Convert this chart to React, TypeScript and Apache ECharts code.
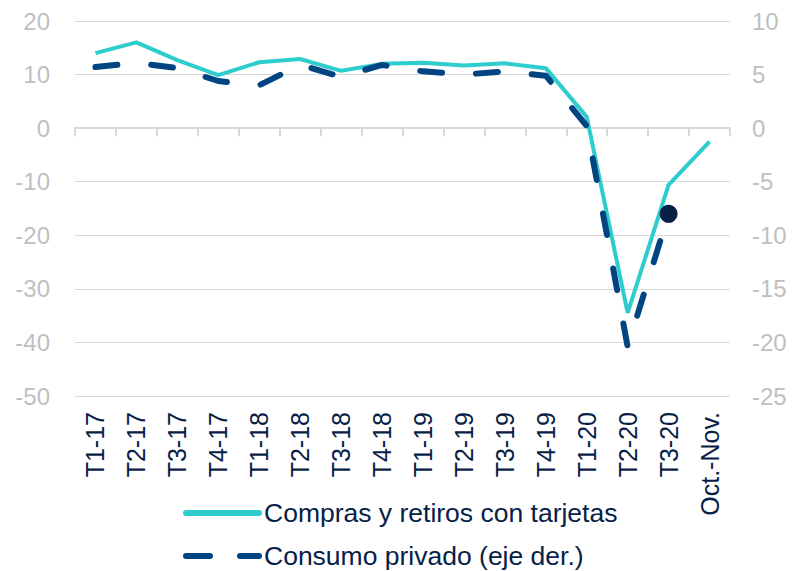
import React, { useEffect, useRef } from "react";
import * as echarts from "echarts";

const categories = [
  "T1-17", "T2-17", "T3-17", "T4-17",
  "T1-18", "T2-18", "T3-18", "T4-18",
  "T1-19", "T2-19", "T3-19", "T4-19",
  "T1-20", "T2-20", "T3-20", "Oct.-Nov.",
];

const tarjetas = [14, 16, 12.7, 9.9, 12.3, 12.9, 10.7, 12, 12.2, 11.7, 12.1, 11.2, 2.1, -34.5, -10.6, -2.5];
const consumo = [5.7, 6.1, 5.6, 4.4, 4.0, 5.9, 4.8, 5.9, 5.3, 5.0, 5.3, 4.9, 0.2, -20.4, -8, null];
const consumoPunto = [null, null, null, null, null, null, null, null, null, null, null, null, null, null, -8, null];

const seriesNames = ["Compras y retiros con tarjetas", "Consumo privado (eje der.)"];

const FONT = "'Liberation Sans', Arial, sans-serif";

const legendBase = {
  orient: "horizontal",
  left: 183,
  padding: 0,
  itemWidth: 73,
  itemHeight: 14,
  itemStyle: { opacity: 0 },
  textStyle: { fontSize: 26.5, color: "#072146", fontFamily: FONT, lineHeight: 30 },
};

export default function App() {
  const ref = useRef<HTMLDivElement>(null);

  useEffect(() => {
    if (!ref.current) return;
    const chart = echarts.init(ref.current, null, { renderer: "svg" });
    chart.setOption({
      animation: false,
      textStyle: { fontFamily: FONT },
      grid: { left: 75, right: 62, top: 21, bottom: 175, containLabel: false },
      legend: [
        {
          ...legendBase,
          data: [seriesNames[0]],
          top: 498,
          lineStyle: { width: 6, color: "#2dcccd", cap: "round" },
        },
        {
          ...legendBase,
          data: [seriesNames[1]],
          top: 541,
          lineStyle: { width: 6, color: "#004481", type: [24, 30], cap: "round" },
        },
      ],
      xAxis: [
        {
          type: "category",
          data: categories,
          position: "bottom",
          boundaryGap: true,
          axisLine: { show: false },
          axisTick: { show: false },
          axisLabel: { rotate: 90, interval: 0, color: "#072146", fontSize: 25, margin: 16, fontFamily: FONT },
        },
        {
          type: "category",
          data: categories,
          position: "top",
          boundaryGap: true,
          axisLine: { show: true, onZero: true, onZeroAxisIndex: 0, lineStyle: { color: "#d9d9d9", width: 2 } },
          axisTick: { show: true, inside: true, length: 8, interval: 0, lineStyle: { color: "#d9d9d9", width: 2 } },
          axisLabel: { show: false },
        },
      ],
      yAxis: [
        {
          type: "value",
          min: -50,
          max: 20,
          interval: 10,
          position: "left",
          axisLine: { show: false },
          axisTick: { show: false },
          axisLabel: { color: "#bfbfbf", fontSize: 24, margin: 25, fontFamily: FONT },
          splitLine: { show: true, lineStyle: { color: "#d9d9d9", width: 1 } },
        },
        {
          type: "value",
          min: -25,
          max: 10,
          interval: 5,
          position: "right",
          axisLine: { show: false },
          axisTick: { show: false },
          axisLabel: { color: "#bfbfbf", fontSize: 24, margin: 22, fontFamily: FONT },
          splitLine: { show: false },
        },
      ],
      series: [
        {
          name: seriesNames[0],
          type: "line",
          xAxisIndex: 0,
          yAxisIndex: 0,
          data: tarjetas,
          symbol: "none",
          lineStyle: { color: "#2dcccd", width: 4 },
          itemStyle: { color: "#2dcccd" },
        },
        {
          name: seriesNames[1],
          type: "line",
          xAxisIndex: 0,
          yAxisIndex: 1,
          data: consumo,
          symbol: "none",
          lineStyle: { color: "#004481", width: 6, type: [22, 34], cap: "round" },
          itemStyle: { color: "#004481" },
        },
        {
          name: "punto",
          type: "scatter",
          xAxisIndex: 0,
          yAxisIndex: 1,
          data: consumoPunto,
          symbol: "circle",
          symbolSize: 18,
          itemStyle: { color: "#072146", opacity: 1 },
          z: 5,
        },
      ],
    });
    return () => chart.dispose();
  }, []);

  return (
    <div
      ref={ref}
      style={{ position: "fixed", left: 0, top: 0, width: 792, height: 571, background: "#ffffff" }}
    />
  );
}
